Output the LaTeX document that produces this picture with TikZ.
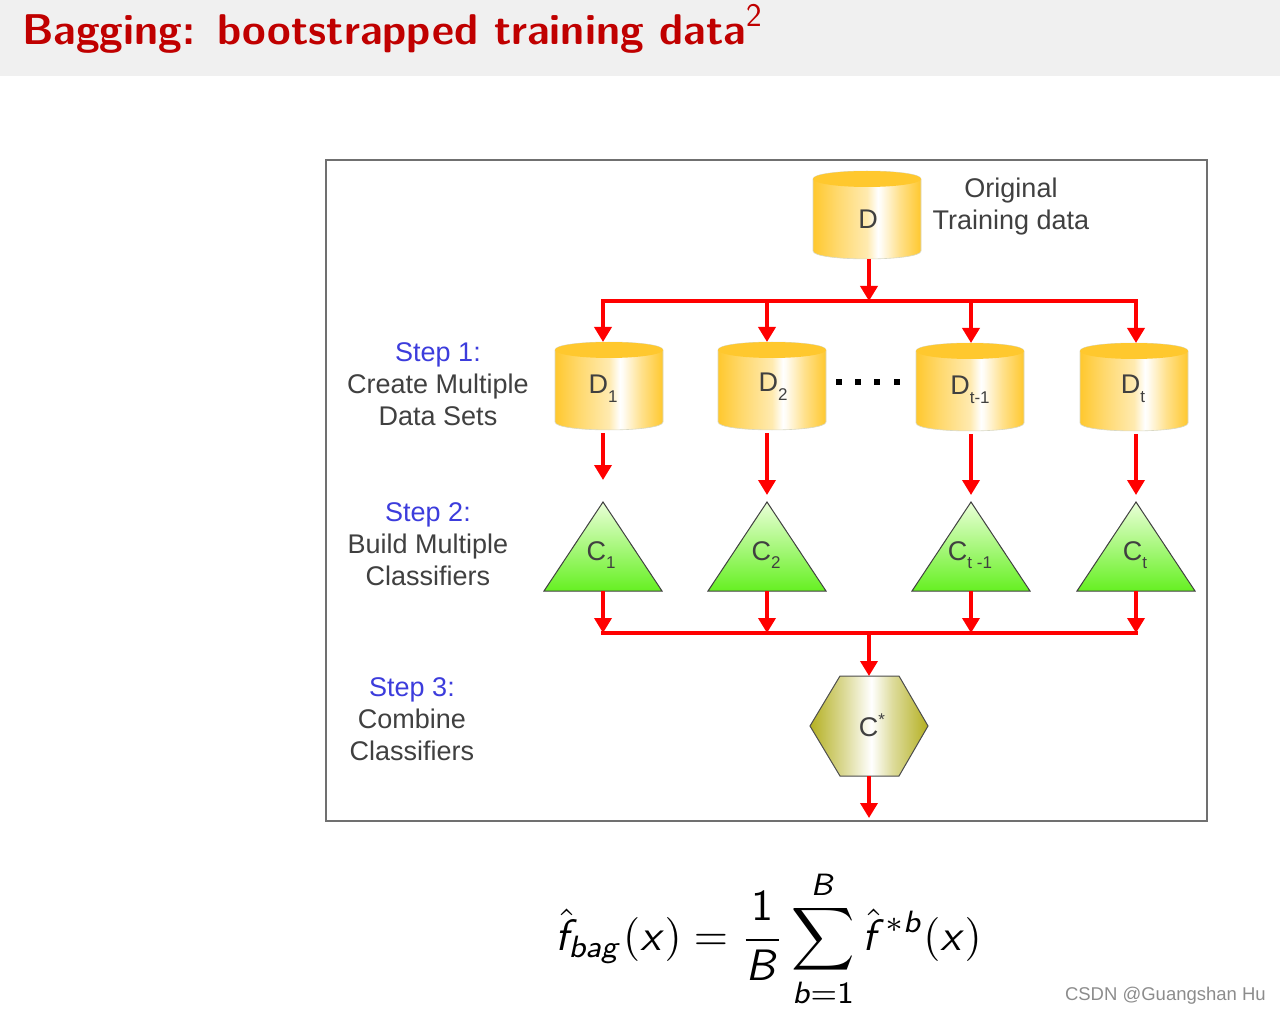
\documentclass[tikz,border=0pt]{standalone}
\usepackage{amsmath}
\usepackage[no-math]{fontspec}
\usetikzlibrary{positioning, arrows.meta, calc}
\newfontfamily\arial{Liberation Sans}
\DeclareMathAlphabet{\mathsfsl}{OT1}{cmss}{m}{sl}
\definecolor{barra}{HTML}{F0F0F0}
\definecolor{rojo}{HTML}{FF0000}
\definecolor{titulo}{HTML}{C00000}
\definecolor{azul}{HTML}{3C3CDC}
\definecolor{texto}{HTML}{404040}
\definecolor{marco}{HTML}{707070}
\definecolor{tapa}{HTML}{FFC82E}
\definecolor{borde}{HTML}{D8D8C4}
\definecolor{hoja}{HTML}{EAFFD8}
\definecolor{pasto}{HTML}{66F022}
\pgfdeclarehorizontalshading{cilindro}{100bp}{color(0bp)=(tapa); color(25bp)=(tapa);
	color(36bp)=(tapa!70!white); color(50bp)=(tapa!38!white); color(55bp)=(white); color(56.5bp)=(tapa!6!white);
	color(65bp)=(tapa!55!white); color(75bp)=(tapa); color(100bp)=(tapa)}
\definecolor{oliva}{HTML}{B4B022}
\pgfdeclarehorizontalshading{hexagono}{100bp}{color(0bp)=(oliva); color(25bp)=(oliva);
	color(40bp)=(oliva!45!white); color(51bp)=(white); color(60bp)=(oliva!45!white);
	color(75bp)=(oliva); color(100bp)=(oliva)}
\tikzset{
	enlace/.style={draw=rojo, line width=3.6pt, -{Triangle[length=15pt,width=17pt]}},
	bus/.style={draw=rojo, line width=3.6pt, line cap=rect},
	hueco/.style={inner sep=0pt, outer sep=0pt, minimum width=#1},
	rotulo/.style={font=\arial\fontsize{27}{32}\selectfont, text=texto},
	paso/.style={rotulo, align=center},
	punto/.style={fill=black, inner sep=0pt, minimum size=6pt}
}
\newcommand\lowidx[1]{\raisebox{-0.32em}{\fontsize{17}{17}\selectfont #1}}
\newcommand\barril[3]{% left, top, bottom
	\shade[shading=cilindro, draw=borde, line width=.6pt] (#1,#2+8) .. controls (#1,#2-2.6) and (#1+108,#2-2.6) .. (#1+108,#2+8)
		-- (#1+108,#3-8) .. controls (#1+108,#3+2.6) and (#1,#3+2.6) .. (#1,#3-8) -- cycle;
	\fill[tapa] (#1+54,#2+8) ellipse [x radius=54, y radius=8];
}
\begin{document}
\begin{tikzpicture}[x=1pt, y=-1pt]
	\useasboundingbox (0,0) rectangle (1280,1016);
	\fill[barra] (0,0) rectangle (1280,76);
	\node[anchor=base west, inner sep=0pt, text=titulo, font=\sffamily\bfseries\fontsize{43}{46}\selectfont] (head) at (22,45)
		{Bagging:\hspace{.5em}bootstrapped training data\raisebox{.42em}{\mdseries\fontsize{33}{34}\selectfont 2}};
	\node[draw=marco, line width=1.6pt, minimum width=881pt, minimum height=661pt, inner sep=0pt] (frame) at (766.5,490.5) {};

	% original data
	\barril{813}{171}{259}
	\node[hueco=108pt, minimum height=88pt] (d) at (869,215) {};
	\node[rotulo] (dl) at (868,219) {D};
	\node[paso] (orig) at (1011,207) {Original\\Training data};

	\coordinate (bustop) at (869,301);
	\draw[enlace] (d.south) -- (bustop);
	\draw[bus] (603,301) coordinate (busa) -- (1136,301) coordinate (busb);

	\foreach \n/\l/\t/\b/\a/\lx/\ly/\ty/\g/\txt/\ctxt in {
			1/555/342/430/603/603/389/601/22/{D\lowidx{1}}/{C\lowidx{1}},
			2/718/342/430/767/773/387/766/7/{D\lowidx{2}}/{C\lowidx{2}},
			3/916/343/431/971/970/390/970/7/{D\lowidx{t-1}}/{C\lowidx{t -1}},
			4/1080/343/431/1136/1133/389/1135/7/{D\lowidx{t}}/{C\lowidx{t}}} {
		\barril{\l}{\t}{\b}
		\node[hueco=1pt, minimum height=88pt] (d\n) at (\a,\t+44) {};
		\node[rotulo] (dl\n) at (\lx,\ly) {\txt};
		\shade[top color=hoja, bottom color=pasto, draw=black!75, line width=1pt]
			(\a,502) -- (\a+59,591) -- (\a-59,591) -- cycle;
		\node[hueco=1pt, minimum height=89pt] (c\n) at (\a,546.5) {};
		\node[rotulo] (cl\n) at (\ty,555) {\ctxt};
		\coordinate (top\n) at (\a,301);
		\coordinate (low\n) at (\a,633);
		\draw[enlace] (top\n) -- (d\n.north);
		\draw[enlace] ([yshift=-3pt]d\n.south) -- ([yshift=\g pt]c\n.north);
		\draw[enlace] (c\n.south) -- (low\n);
	}

	\foreach \i/\x in {1/839, 2/858, 3/877, 4/897}
		\node[punto] (dot\i) at (\x,382) {};

	% combined classifier
	\draw[bus] (low1) -- (low4);
	\coordinate (buslow) at (869,633);
	\shade[shading=hexagono, draw=black!70, line width=1pt]
		(810,726) -- (840,676) -- (899,676) -- (928,726) -- (899,776) -- (840,776) -- cycle;
	\node[hueco=118pt, minimum height=100pt] (h) at (869,726) {};
	\node[rotulo] (hl) at (872,725) {C\raisebox{.42em}{\fontsize{17}{17}\selectfont *}};
	\coordinate (salida) at (869,818);
	\draw[enlace] (buslow) -- (h.north);
	\draw[enlace] (h.south) -- (salida);

	\node[paso] (s1) at (438,384) {{\color{azul}Step 1:}\\Create Multiple\\Data Sets};
	\node[paso] (s2) at (428,544) {{\color{azul}Step 2:}\\Build Multiple\\Classifiers};
	\node[paso] (s3) at (412,719) {{\color{azul}Step 3:}\\Combine\\Classifiers};

	\node[inner sep=0pt, scale=4.4, transform shape] (formula) at (768.5,939)
		{$\displaystyle \hat{\mathsfsl{f}}_{\mathsfsl{bag}}(\mathsfsl{x}) = \frac{\mathsf{1}}{\mathsfsl{B}} \sum_{\mathsfsl{b}=\mathsf{1}}^{\mathsfsl{B}} \hat{\mathsfsl{f}}^{*\mathsfsl{b}}(\mathsfsl{x})$};
	\node[anchor=east, inner sep=0pt, text=black!45, font=\arial\fontsize{18.5}{20}\selectfont] (mark) at (1266,996) {CSDN @Guangshan Hu};
\end{tikzpicture}
\end{document}
